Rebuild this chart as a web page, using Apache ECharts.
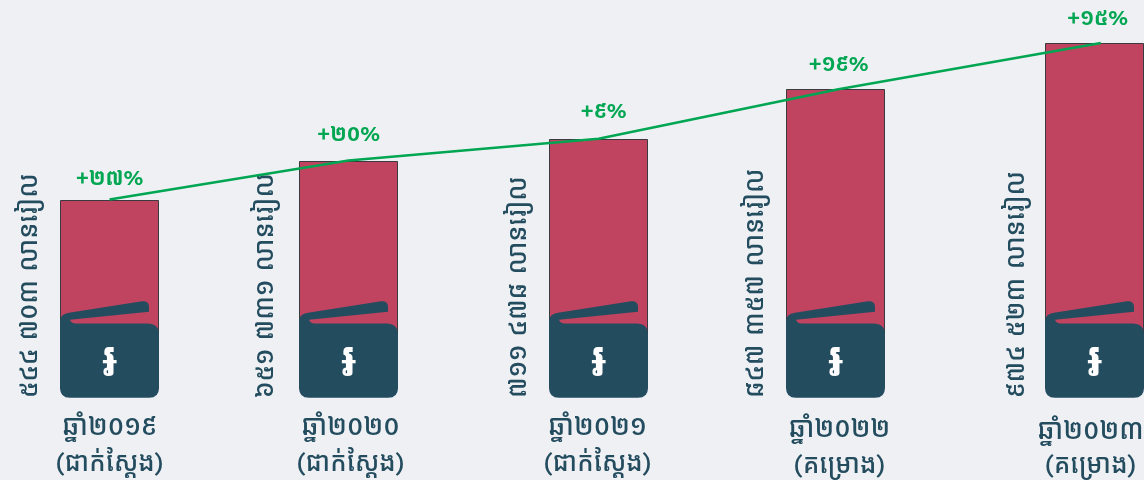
<!DOCTYPE html>
<html><head><meta charset="utf-8">
<style>html,body{margin:0;padding:0;background:#eef0f4}#c{width:1144px;height:480px}</style>
<script src="https://cdn.jsdelivr.net/npm/echarts@6/dist/echarts.min.js"></script>
</head><body><div id="c"></div>
<script>
const years = ['ឆ្នាំ២០១៩','ឆ្នាំ២០២០','ឆ្នាំ២០២១','ឆ្នាំ២០២២','ឆ្នាំ២០២៣'];
const statuses = ['(ជាក់ស្តែង)','(ជាក់ស្តែង)','(ជាក់ស្តែង)','(គម្រោង)','(គម្រោង)'];
const valueLabels = ['៥៤៤ ៧០៣ លានរៀល','៦៥១ ៧៣១ លានរៀល','៧១១ ៤៧៨ លានរៀល','៨៤៧ ៣៥៧ លានរៀល','៩៧៤ ៥២៣ លានរៀល'];
const growthLabels = ['+២៧%','+២០%','+៩%','+១៩%','+១៥%'];
const budget = [544703, 651731, 711478, 847357, 974523];
const slots = [0, 0.9706, 1.9858, 2.948, 4];
const trendSlots = [0, 0.9706, 1.9858, 2.96, 4.026];

const font = '"Kantumruy Pro","Noto Sans",sans-serif';
const navy = '#244c5f', red = '#c04360', green = '#00a651';
const walletPath = 'M0 21Q0 13 9 12L82 0.5Q89 0 89 6L89 11L10 19Q11 22.7 16 22.7L87 22.7Q99 22.7 99 34L99 87Q99 97 89 97L10 97Q0 97 0 87Z';
const growthNudge = [[0,-21],[0,-26],[5,-27],[3,-24],[3,-24]];
const sideNudge = [-80,-83,-80,-80,-78];
const yearNudge = [[0,29,66],[2,29,66],[-1,29,66],[4,31,68],[-4,33,68]];

const chart = echarts.init(document.getElementById('c'), null, {renderer:'canvas'});
chart.setOption({
  animation:false,
  backgroundColor:'#eef0f4',
  grid:{left:0,right:0,top:0,bottom:82},
  xAxis:{type:'value',min:-0.4447,max:4.201,show:false},
  yAxis:{type:'value',min:0,max:1092566,show:false},
  series:[
    {
      type:'custom',
      coordinateSystem:'cartesian2d',
      data:budget.map((v,i)=>[slots[i],v,i]),
      z:2,
      renderItem(params,api){
        const i=api.value(2);
        const top=api.coord([api.value(0),api.value(1)]);
        const base=api.coord([api.value(0),0]);
        const cx=top[0], w=99, x0=cx-w/2;
        const n=growthNudge[i], yn=yearNudge[i];
        const txt=(text,x,y,size,color,extra)=>Object.assign({type:'text',x,y,style:{text,font:(extra&&extra.weight||'500')+' '+size+'px '+font,fill:color,align:'center',verticalAlign:'middle'}},extra&&extra.el);
        return {type:'group',children:[
          {type:'rect',shape:{x:Math.round(x0)+0.5,y:Math.round(top[1])+0.5,width:w-1,height:base[1]-top[1]-10},style:{fill:red,stroke:'#3a3a40',lineWidth:1}},
          {type:'path',x:Math.round(x0),y:base[1]-97,shape:{pathData:walletPath,x:0,y:0,width:99,height:97},style:{fill:navy}},
          txt('៛',cx,base[1]-35,47,'#ffffff',{weight:'600'}),
          txt(valueLabels[i],x0+49.5+sideNudge[i],base[1],26.3,navy,{el:{rotation:Math.PI/2}}),
          txt(growthLabels[i],cx+n[0],top[1]+n[1],22,green,{weight:'600'}),
          txt(years[i],cx+yn[0],base[1]+yn[1],27,navy),
          txt(statuses[i],cx+yn[0],base[1]+yn[2],26,navy)
        ].map((e,k)=>{ if(k===3){e.style.align='left';} return e; })};
      }
    },
    {
      type:'line',
      z:3,
      data:budget.map((v,i)=>[trendSlots[i],v]),
      showSymbol:false,
      symbol:'none',
      lineStyle:{color:green,width:2.5}
    }
  ]
});
</script></body></html>
